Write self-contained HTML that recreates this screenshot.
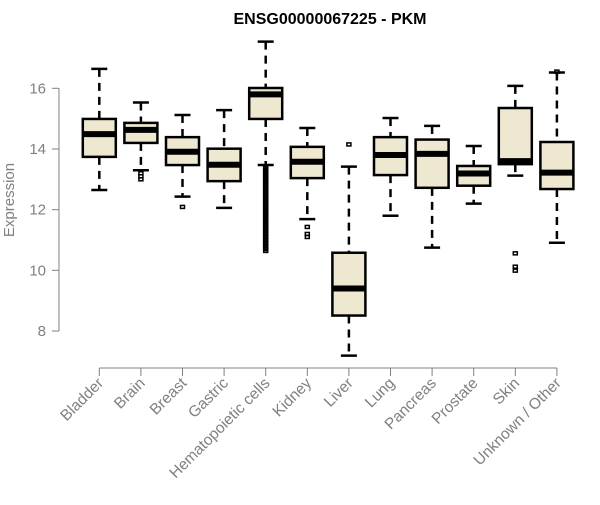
<!DOCTYPE html>
<html><head><meta charset="utf-8"><style>
body{margin:0;background:#fff;}
svg text{font-family:"Liberation Sans",Arial,sans-serif;}
</style></head><body>
<svg id="chart" width="600" height="500" viewBox="0 0 600 500">
<text x="330" y="24" text-anchor="middle" font-size="16" font-weight="bold" fill="#000">ENSG00000067225 - PKM</text>
<text transform="translate(14,200) rotate(-90)" text-anchor="middle" font-size="15" fill="#808080">Expression</text>
<g id="yaxis"></g>
<g id="xaxis"></g>
<g id="boxes"></g>
</svg>
<script>
const categories=["Bladder","Brain","Breast","Gastric","Hematopoietic cells","Kidney","Liver","Lung","Pancreas","Prostate","Skin","Unknown / Other"];
const whiskerLow=[12.65,13.30,12.43,12.06,13.47,11.69,7.19,11.80,10.75,12.20,13.12,10.91];
const q1=[13.74,14.20,13.47,12.94,14.99,13.04,8.51,13.14,12.72,12.79,13.50,12.68];
const medians=[14.49,14.63,13.91,13.48,15.80,13.58,9.40,13.80,13.84,13.19,13.60,13.22];
const q3=[14.99,14.86,14.39,14.01,16.01,14.07,10.58,14.39,14.31,13.44,15.35,14.23];
const whiskerHigh=[16.64,15.53,15.12,15.28,17.54,14.69,13.42,15.02,14.76,14.10,16.08,16.52];
const outliers=[[],[13.2,13.1,13.0],[12.09],[],
[13.4,13.35,13.3,13.25,13.2,13.15,13.1,13.05,13.0,12.95,12.9,12.85,12.8,12.75,12.7,12.65,12.6,12.55,12.5,12.45,12.4,12.35,12.3,12.25,12.2,12.15,12.1,12.05,12.0,11.95,11.9,11.85,11.8,11.75,11.7,11.65,11.6,11.55,11.5,11.45,11.4,11.35,11.3,11.25,11.2,11.15,11.1,11.05,11.0,10.95,10.9,10.85,10.8,10.75,10.7,10.64],
[11.43,11.2,11.1],[14.15],[],[],[],[10.56,10.12,9.99],[16.55]];
const yTicks=[8,10,12,14,16];

const NS="http://www.w3.org/2000/svg";
function y(v){return 88.3+(16-v)*30.34;}
function x(i){return 99.3+i*41.6;}
function mk(tag,attrs,parent){const e=document.createElementNS(NS,tag);for(const k in attrs)e.setAttribute(k,attrs[k]);parent.appendChild(e);return e;}
const ya=document.getElementById('yaxis'),xa=document.getElementById('xaxis'),bx=document.getElementById('boxes');
const gray="#808080";
let l=mk('line',{x1:59,x2:59,y1:y(yTicks[yTicks.length-1]),y2:y(yTicks[0]),stroke:gray},ya);


yTicks.forEach(t=>{
 const tk=mk('line',{x1:52,x2:59,y1:y(t),y2:y(t),stroke:gray},ya);
 
 
 const tx=mk('text',{x:46,y:y(t)+5,'text-anchor':'end','font-size':15,fill:gray},ya);
 tx.textContent=t;
 
 
});
l=mk('line',{x1:x(0),x2:x(categories.length-1),y1:368,y2:368,stroke:gray},xa);


categories.forEach((c,i)=>{
 const tk=mk('line',{x1:x(i),x2:x(i),y1:368,y2:376,stroke:gray},xa);
 
 
 const tx=mk('text',{transform:`translate(${x(i)+5},${384}) rotate(-45)`,'text-anchor':'end','font-size':15.5,fill:gray},xa);
 tx.textContent=c;
 
 
});
const hw=16.5,cw=8;
categories.forEach((c,i)=>{
 const g=mk('g',{},bx);
 
 
 const cx=x(i);
 mk('line',{x1:cx,x2:cx,y1:y(whiskerHigh[i]),y2:y(q3[i]),stroke:'#000','stroke-width':2.5,'stroke-dasharray':'8,6'},g);
 mk('line',{x1:cx,x2:cx,y1:y(q1[i]),y2:y(whiskerLow[i]),stroke:'#000','stroke-width':2.5,'stroke-dasharray':'8,6'},g);
 mk('line',{x1:cx-cw,x2:cx+cw,y1:y(whiskerHigh[i]),y2:y(whiskerHigh[i]),stroke:'#000','stroke-width':2.5},g);
 mk('line',{x1:cx-cw,x2:cx+cw,y1:y(whiskerLow[i]),y2:y(whiskerLow[i]),stroke:'#000','stroke-width':2.5},g);
 mk('rect',{x:cx-hw,y:y(q3[i]),width:2*hw,height:y(q1[i])-y(q3[i]),fill:'#ede8cf',stroke:'#000','stroke-width':2.5},g);
 mk('line',{x1:cx-hw,x2:cx+hw,y1:y(medians[i]),y2:y(medians[i]),stroke:'#000','stroke-width':6},g);
 outliers[i].forEach(v=>{
  const o=mk('rect',{x:cx-2,y:y(v)-1.5,width:4,height:3,fill:'none',stroke:'#000','stroke-width':1.5},g);
  
  
 });
});
</script>
</body></html>
